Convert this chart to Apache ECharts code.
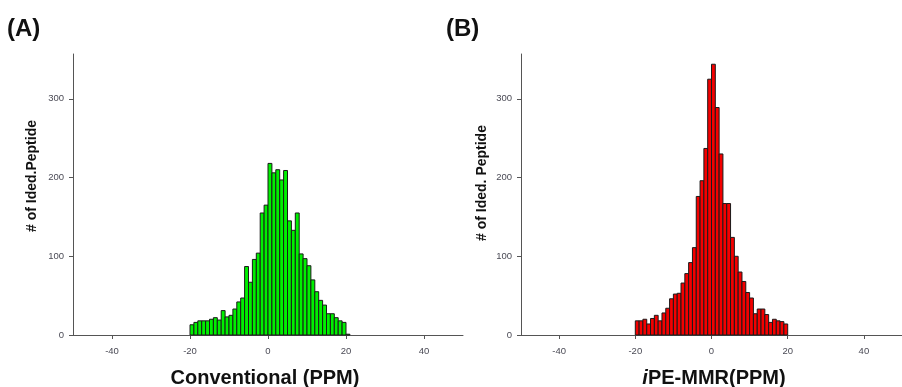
<!DOCTYPE html>
<html>
<head>
<meta charset="utf-8">
<script src="https://cdn.jsdelivr.net/npm/echarts@6/dist/echarts.min.js"></script>
<style>
html,body{margin:0;padding:0;background:#fff;}
#chart{width:902px;height:387px;}
</style>
</head>
<body>
<div id="chart"></div>
<script>
// Bin starts (PPM, 1-PPM wide bins) and counts
const binStartsA = [-20,-19,-18,-17,-16,-15,-14,-13,-12,-11,-10,-9,-8,-7,-6,-5,-4,-3,-2,-1,0,1,2,3,4,5,6,7,8,9,10,11,12,13,14,15,16,17,18,19,20];
const countsA    = [13,16,18,18,18,20,22,19,31,23,25,33,42,47,87,67,96,104,155,165,218,206,210,197,209,145,133,155,103,97,88,70,55,44,38,27,27,22,18,16,1];

const binStartsB = [-20,-19,-18,-17,-16,-15,-14,-13,-12,-11,-10,-9,-8,-7,-6,-5,-4,-3,-2,-1,0,1,2,3,4,5,6,7,8,9,10,11,12,13,14,15,16,17,18,19];
const countsB    = [18,18,20,14,21,25,18,28,34,46,52,53,66,78,92,111,176,196,237,325,344,289,230,167,167,124,100,80,68,54,47,27,33,33,26,16,20,18,17,14];

const xTicks = [-40,-20,0,20,40];
const yTicks = [0,100,200,300];
const binWidth = 1;

const chart = echarts.init(document.getElementById('chart'), null, {renderer:'canvas'});

function makeRender(fill){
  return function(params, api){
    const x0 = api.value(0), y = api.value(1);
    const p0 = api.coord([x0, y]);
    const p1 = api.coord([x0 + binWidth, 0]);
    return {type:'rect', shape:{x:p0[0], y:p0[1], width:p1[0]-p0[0], height:p1[1]-p0[1]},
            style:{fill:fill, stroke:'#1a1a1a', lineWidth:1}};
  };
}

const labelStyle = {color:'#4a4a55', fontSize:9.5, fontFamily:'Liberation Sans, Arial, sans-serif'};
function xAxis(idx){
  return {type:'value', gridIndex:idx, min:-50, max:50,
    axisLine:{show:true, onZero:false, lineStyle:{color:'#555', width:1}},
    axisTick:{show:true, length:4, lineStyle:{color:'#555'}, customValues:xTicks},
    axisLabel:Object.assign({margin:11, customValues:xTicks}, labelStyle),
    splitLine:{show:false}};
}
function yAxis(idx){
  return {type:'value', gridIndex:idx, min:0, max:357,
    axisLine:{show:true, onZero:false, lineStyle:{color:'#555', width:1}},
    axisTick:{show:true, length:4, lineStyle:{color:'#555'}, customValues:yTicks},
    axisLabel:Object.assign({margin:9, customValues:yTicks}, labelStyle),
    splitLine:{show:false}};
}

const boldFont = 'Liberation Sans, Arial, sans-serif';
chart.setOption({
  animation:false,
  backgroundColor:'#fff',
  grid:[
    {left:73, top:54, width:390, height:281},
    {left:521, top:54, width:390, height:281}
  ],
  xAxis:[xAxis(0), xAxis(1)],
  yAxis:[yAxis(0), yAxis(1)],
  series:[
    {type:'custom', xAxisIndex:0, yAxisIndex:0, renderItem:makeRender('#00f000'),
     encode:{x:0, y:1}, data:binStartsA.map((b,i)=>[b, countsA[i]])},
    {type:'custom', xAxisIndex:1, yAxisIndex:1, renderItem:makeRender('#f40000'),
     encode:{x:0, y:1}, data:binStartsB.map((b,i)=>[b, countsB[i]])}
  ],
  graphic:[
    {type:'text', left:7, top:17, style:{text:'(A)', font:'bold 24px '+boldFont, fill:'#111'}},
    {type:'text', left:446, top:17, style:{text:'(B)', font:'bold 24px '+boldFont, fill:'#111'}},
    {type:'text', x:32, y:176, rotation:Math.PI/2,
     style:{text:'# of Ided.Peptide', font:'bold 14px '+boldFont, fill:'#111', align:'center', verticalAlign:'middle'}},
    {type:'text', x:482, y:183, rotation:Math.PI/2,
     style:{text:'# of Ided. Peptide', font:'bold 14px '+boldFont, fill:'#111', align:'center', verticalAlign:'middle'}},
    {type:'text', x:265, y:378,
     style:{text:'Conventional (PPM)', font:'bold 20px '+boldFont, fill:'#111', align:'center', verticalAlign:'middle'}},
    {type:'text', x:714, y:378,
     style:{text:'{i|i}{n|PE-MMR(PPM)}', align:'center', verticalAlign:'middle',
       rich:{i:{font:'italic bold 20px '+boldFont, fill:'#111'}, n:{font:'bold 20px '+boldFont, fill:'#111'}}}}
  ]
});
</script>
</body>
</html>
